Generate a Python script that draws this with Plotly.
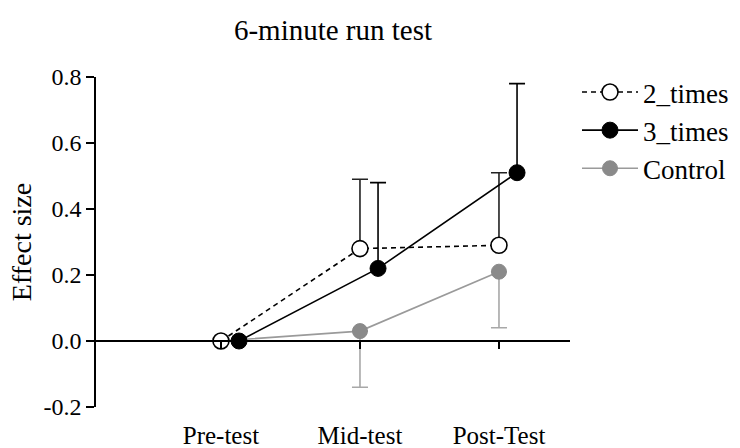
import plotly.graph_objects as go

categories = ["Pre-test", "Mid-test", "Post-Test"]
two_times = [0.0, 0.28, 0.29]
two_times_err = [0.0, 0.21, 0.22]
three_times = [0.0, 0.22, 0.51]
three_times_err = [0.0, 0.26, 0.27]
control = [0.0, 0.03, 0.21]
control_err = [0.0, 0.17, 0.17]
y_ticks = [-0.2, 0.0, 0.2, 0.4, 0.6, 0.8]

FONT = "Liberation Serif"
idx = list(range(len(categories)))
dodge = 0.13  # horizontal offset of the 3_times series

fig = go.Figure()

fig.add_trace(go.Scatter(
    x=idx, y=control, name="Control", mode="lines+markers",
    line=dict(color="#9a9a9a", width=1.6),
    marker=dict(size=15, color="#8a8a8a", line=dict(color="#8a8a8a", width=1)),
    error_y=dict(type="data", symmetric=False, array=[0] * len(control),
                 arrayminus=control_err, color="#a8a8a8", thickness=1.6, width=8),
    legendrank=3,
))
fig.add_trace(go.Scatter(
    x=idx, y=two_times, name="2_times", mode="lines+markers",
    line=dict(color="black", width=1.6, dash="5px,4px"),
    marker=dict(size=16, color="white", line=dict(color="black", width=1.6)),
    error_y=dict(type="data", symmetric=False, array=two_times_err,
                 arrayminus=[0] * len(two_times), color="#222222", thickness=1.6, width=8),
    legendrank=1,
))
fig.add_trace(go.Scatter(
    x=[i + dodge for i in idx], y=three_times, name="3_times", mode="lines+markers",
    xaxis="x2", yaxis="y",
    line=dict(color="black", width=1.6),
    marker=dict(size=16, color="black", line=dict(color="black", width=1)),
    error_y=dict(type="data", symmetric=False, array=three_times_err,
                 arrayminus=[0] * len(three_times), color="black", thickness=1.6, width=8),
    legendrank=2,
))

xrange = [-0.899, 2.511]
fig.update_layout(
    width=740, height=448,
    margin=dict(l=96, r=170, t=77, b=41),
    paper_bgcolor="white", plot_bgcolor="white",
    font=dict(family=FONT, color="black"),
    title=dict(text="6-minute run test", x=0.5, xref="paper", xanchor="center",
               y=1 - 30 / 448, yref="container", yanchor="middle",
               font=dict(size=29, family=FONT, color="black")),
    showlegend=True,
    legend=dict(x=577 / 740, xref="container", xanchor="left",
                y=1 - 68 / 448, yref="container", yanchor="top",
                font=dict(size=27, family=FONT), bgcolor="rgba(0,0,0,0)",
                tracegroupgap=0, itemwidth=56),
    xaxis=dict(range=xrange, tickmode="array", tickvals=idx, ticktext=categories,
               showticklabels=False, anchor="free", position=0.2,
               showline=True, linecolor="black", linewidth=1.6,
               ticks="outside", ticklen=7, tickwidth=1.6, tickcolor="black",
               showgrid=False, zeroline=False, automargin=False),
    xaxis2=dict(range=xrange, matches="x", overlaying="x", anchor="y", side="bottom",
                tickmode="array", tickvals=idx, ticktext=categories,
                showticklabels=True, ticks="", showline=False, showgrid=False,
                zeroline=False, ticklabelstandoff=11, automargin=False,
                tickfont=dict(size=25, family=FONT, color="black")),
    yaxis=dict(range=[-0.2, 0.8], tickmode="array", tickvals=y_ticks,
               ticktext=[f"{v:.1f}" for v in y_ticks],
               showline=True, linecolor="black", linewidth=1.6,
               ticks="outside", ticklen=8, tickwidth=1.6, tickcolor="black",
               showgrid=False, zeroline=False, automargin=False,
               tickfont=dict(size=24, family=FONT, color="black"),
               title=dict(text="Effect size", standoff=4,
                          font=dict(size=28, family=FONT, color="black"))),
)

fig.write_html("out.html", config={"displayModeBar": False},
               post_script="document.body.style.margin='0';")
